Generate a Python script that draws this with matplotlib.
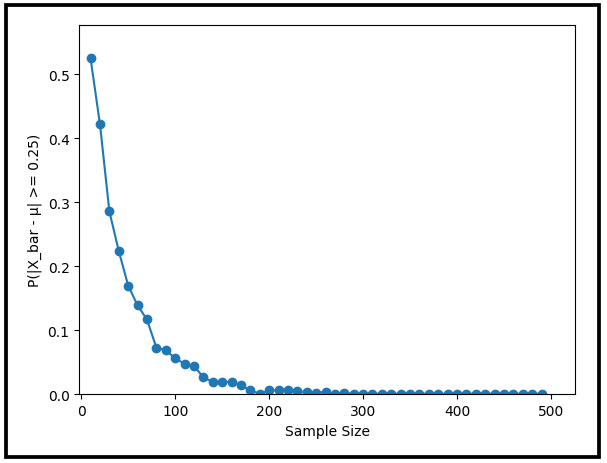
import matplotlib.pyplot as plt
from matplotlib.patches import Rectangle

sample_sizes = list(range(10, 500, 10))
probs = [0.525, 0.422, 0.286, 0.224, 0.170, 0.139, 0.117, 0.073, 0.069, 0.056,
         0.048, 0.044, 0.027, 0.019, 0.019, 0.020, 0.014, 0.006, 0.001, 0.006,
         0.006, 0.006, 0.005, 0.003, 0.002, 0.004, 0.001, 0.002, 0.001, 0.001,
         0.001, 0.001, 0.001, 0.001, 0.001, 0.001, 0.001, 0.001, 0.001, 0.001,
         0.001, 0.001, 0.001, 0.001, 0.001, 0.001, 0.001, 0.001, 0.001]

fig = plt.figure(figsize=(6.07, 4.64), dpi=100)
ax = fig.add_axes([0.1306, 0.148, 0.8175, 0.796])

ax.plot(sample_sizes, probs, marker='o')
ax.set_xlim(-2, 526)
ax.set_ylim(0, 0.577)
ax.set_xlabel("Sample Size")
ax.set_ylabel("P(|X_bar - μ| >= 0.25)")

# black frame around the whole picture
fig.patches.append(Rectangle((0.0104, 0.0123), 0.977, 0.9754, transform=fig.transFigure,
                             fill=False, edgecolor='black', linewidth=2.7))

fig.savefig("out.png", dpi=100)
